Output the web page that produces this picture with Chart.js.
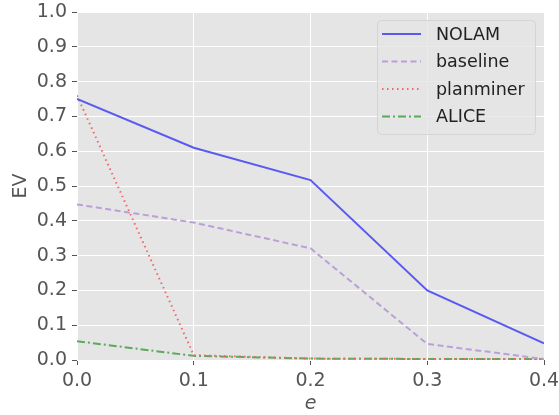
<!DOCTYPE html>
<html>
<head>
<meta charset="utf-8">
<script src="https://cdn.jsdelivr.net/npm/chart.js@4.4.1/dist/chart.umd.min.js"></script>
<style>
  html, body { margin: 0; padding: 0; background: #fff; }
  #wrap { width: 559px; height: 415px; }
</style>
</head>
<body>
<div id="wrap"><canvas id="c" width="559" height="415"></canvas></div>
<script>
// data
const eValues = [0, 0.1, 0.2, 0.3, 0.4];
const nolam = [0.75, 0.61, 0.517, 0.20, 0.048];
const baseline = [0.447, 0.395, 0.321, 0.046, 0.003];
const planminer = [0.76, 0.014, 0.004, 0.003, 0.003];
const alice = [0.054, 0.012, 0.004, 0.003, 0.003];
const seriesNames = ['NOLAM', 'baseline', 'planminer', 'ALICE'];

const C = {
  nolam: '#5a5af2', base: '#bb9fd8', plan: '#f06868', alice: '#5aaa5a',
  bg: '#e5e5e5', grid: '#ffffff', tick: '#555555',
};
const FONT = "'DejaVu Sans', sans-serif";
const pts = ys => eValues.map((x, i) => ({ x, y: ys[i] }));

const styles = [
  { color: C.nolam, dash: [] },
  { color: C.base, dash: [6, 3.5] },
  { color: C.plan, dash: [1.5, 3.5] },
  { color: C.alice, dash: [8, 3, 2, 3] },
];

// grey panel behind the plot
const panelBg = {
  id: 'panelBg',
  beforeDraw(chart) {
    const { ctx, chartArea: a } = chart;
    ctx.save();
    ctx.fillStyle = C.bg;
    ctx.fillRect(a.left, a.top, a.right - a.left, a.bottom - a.top);
    ctx.restore();
  },
};

// matplotlib-like legend box, top right
const boxLegend = {
  id: 'boxLegend',
  afterDraw(chart) {
    const { ctx } = chart;
    const x0 = 377, y0 = 20, w = 158, h = 114, r = 4;
    ctx.save();
    ctx.beginPath();
    ctx.roundRect(x0 + 0.5, y0 + 0.5, w, h, r);
    ctx.fillStyle = 'rgba(229,229,229,0.8)';
    ctx.fill();
    ctx.strokeStyle = '#d4d4d4';
    ctx.lineWidth = 1;
    ctx.stroke();
    ctx.font = `17.5px ${FONT}`;
    ctx.textBaseline = 'middle';
    ctx.fillStyle = '#222';
    seriesNames.forEach((name, i) => {
      const yy = y0 + 14 + i * 27.5;
      ctx.beginPath();
      ctx.setLineDash(styles[i].dash);
      ctx.strokeStyle = styles[i].color;
      ctx.lineWidth = 2;
      ctx.moveTo(382, yy);
      ctx.lineTo(421, yy);
      ctx.stroke();
      ctx.setLineDash([]);
      ctx.fillText(name, 436, yy + 1);
    });
    ctx.restore();
  },
};

const allSeries = [nolam, baseline, planminer, alice];

new Chart(document.getElementById('c'), {
  type: 'line',
  data: {
    datasets: allSeries.map((ys, i) => ({
      label: seriesNames[i],
      data: pts(ys),
      borderColor: styles[i].color,
      borderDash: styles[i].dash,
      borderWidth: 2,
      pointRadius: 0,
      tension: 0,
      fill: false,
    })),
  },
  options: {
    responsive: false,
    animation: false,
    layout: { padding: { left: 0, right: 15, top: 12, bottom: 0 } },
    plugins: { legend: { display: false }, tooltip: { enabled: false } },
    scales: {
      x: {
        type: 'linear', min: 0, max: 0.4,
        border: { display: false },
        grid: { color: C.grid, lineWidth: 1, drawTicks: true, tickLength: 5, tickColor: C.tick },
        ticks: { stepSize: 0.1, color: C.tick, font: { family: FONT, size: 19 }, padding: 5,
          callback: v => v.toFixed(1) },
        title: { display: true, text: 'e', color: C.tick, font: { family: FONT, size: 19, style: 'italic' }, padding: { top: 0, bottom: 0 } },
        afterFit: s => { s.height = 55; s.paddingLeft = 0; s.paddingRight = 0; },
      },
      y: {
        min: 0, max: 1,
        border: { display: false },
        grid: { color: C.grid, lineWidth: 1, drawTicks: true, tickLength: 5, tickColor: C.tick },
        ticks: { stepSize: 0.1, color: C.tick, font: { family: FONT, size: 19 }, padding: 5,
          callback: v => v.toFixed(1) },
        title: { display: true, text: 'EV', color: C.tick, font: { family: FONT, size: 19 }, padding: { top: 10, bottom: 0 } },
        afterFit: s => { s.width = 77; s.paddingTop = 0; s.paddingBottom = 0; },
      },
    },
  },
  plugins: [panelBg, boxLegend],
});
</script>
</body>
</html>
